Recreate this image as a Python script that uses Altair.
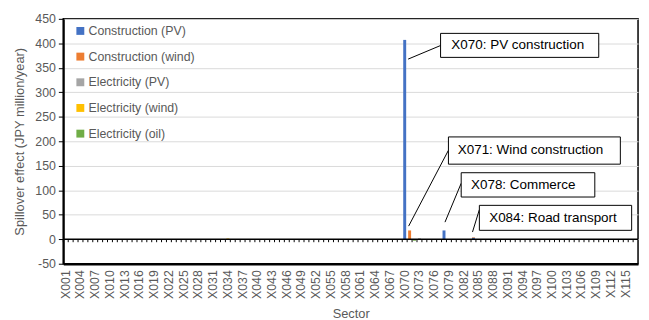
import altair as alt
import pandas as pd

# ---- categories ----
sectors = [f"X{i:03d}" for i in range(1, 118)]
tick_labels = sectors[::3]
y_ticks = [-50, 0, 50, 100, 150, 200, 250, 300, 350, 400, 450]

series_names = ["Construction (PV)", "Construction (wind)", "Electricity (PV)",
                "Electricity (wind)", "Electricity (oil)"]
series_colors = ["#4472C4", "#ED7D31", "#A5A5A5", "#FFC000", "#70AD47"]

# ---- series values (JPY million/year), non-zero sectors only ----
construction_pv = {"X070": 407, "X078": 18, "X084": 3}
construction_wind = {"X071": 18, "X084": 1}
electricity_pv = {"X073": 2}
electricity_wind = {"X034": 1.5}
electricity_oil = {"X072": -3}
series_values = [construction_pv, construction_wind, electricity_pv,
                 electricity_wind, electricity_oil]

# ---- annotations (x in sector-index units, y in data units) ----
ann_labels = ["X070: PV construction", "X071: Wind construction",
              "X078: Commerce", "X084: Road transport"]
box_x0 = [76.8, 78.4, 81.0, 84.7]
box_x1 = [109.0, 113.4, 108.2, 115.7]
box_y0 = [371.3, 153.3, 86.2, 18.2]
box_y1 = [420.3, 208.9, 135.8, 69.2]
text_x = [79.0, 80.3, 83.0, 86.7]
lead_x0 = [70.2, 70.3, 77.7, 83.3]
lead_y0 = [367.8, 26.8, 34.9, 14.7]
lead_x1 = [76.8, 78.4, 81.0, 84.7]
lead_y1 = [395.5, 181.6, 114.3, 60.5]

Y_TITLE = "Spillover effect (JPY million/year)"
FONT = "Liberation Sans"

rows = []
for k, (name, vals) in enumerate(zip(series_names, series_values)):
    for s in sectors:
        rows.append({"sector": s, "series": name, "value": vals.get(s, 0.0), "order": k})
df = pd.DataFrame(rows)

ann_df = pd.DataFrame({
    "label": ann_labels, "bx0": box_x0, "bx1": box_x1, "by0": box_y0, "by1": box_y1,
    "tx": text_x, "ty": [(a + b) / 2 for a, b in zip(box_y0, box_y1)],
    "lx0": lead_x0, "ly0": lead_y0, "lx1": lead_x1, "ly1": lead_y1,
})

yscale = alt.Scale(domain=[-50, 450], nice=False, zero=False)
band = alt.Scale(paddingInner=0, paddingOuter=0)
qx = alt.Scale(domain=[0, 117], nice=False, zero=False)


def yaxis():
    return alt.Axis(values=y_ticks, tickSize=5, labelPadding=3, titlePadding=8,
                    labelOverlap=False, labelBound=False, labelExpr="'' + datum.value")


bars = alt.Chart(df).mark_bar(width=alt.RelativeBandSize(band=0.6)).encode(
    x=alt.X("sector:N", sort=sectors, scale=band, title="Sector",
            axis=alt.Axis(values=tick_labels, labelAngle=-90, ticks=False,
                          labelPadding=6, titlePadding=9, labelOverlap=False)),
    y=alt.Y("value:Q", stack=True, scale=yscale, title=Y_TITLE, axis=yaxis()),
    color=alt.Color("series:N", scale=alt.Scale(domain=series_names, range=series_colors),
                    legend=alt.Legend(orient="none", legendX=11, legendY=6, title=None,
                                      symbolType="square", symbolSize=64,
                                      symbolStrokeWidth=0, labelFontSize=12.5,
                                      labelFont=FONT,
                                      labelColor="#595959", rowPadding=13,
                                      labelOffset=2, padding=0)),
    order=alt.Order("order:Q"),
)

zero_line = alt.Chart(pd.DataFrame({"z": [0]})).mark_rule(
    color="black", strokeWidth=1.5).encode(
    y=alt.Y(datum=0, scale=yscale, title=Y_TITLE, axis=yaxis()))

ticks = alt.Chart(pd.DataFrame({"sector": sectors})).mark_rule(
    color="black", strokeWidth=1).encode(
    x=alt.X("sector:N", sort=sectors, scale=band, bandPosition=0, axis=None),
    y=alt.Y(datum=0, scale=yscale, title=Y_TITLE, axis=yaxis()),
    y2=alt.datum(-6),
)

leads = alt.Chart(ann_df).mark_rule(color="black", strokeWidth=1).encode(
    x=alt.X("lx0:Q", scale=qx, axis=None), x2="lx1:Q",
    y=alt.Y("ly0:Q", scale=yscale, title=Y_TITLE, axis=yaxis()), y2="ly1:Q")

boxes = alt.Chart(ann_df).mark_rect(fill="white", stroke="black", strokeWidth=1).encode(
    x=alt.X("bx0:Q", scale=qx, axis=None), x2="bx1:Q",
    y=alt.Y("by0:Q", scale=yscale, title=Y_TITLE, axis=yaxis()), y2="by1:Q")

texts = alt.Chart(ann_df).mark_text(align="left", baseline="middle", fontSize=13.6,
                                    font=FONT, color="black").encode(
    x=alt.X("tx:Q", scale=qx, axis=None),
    y=alt.Y("ty:Q", scale=yscale, title=Y_TITLE, axis=yaxis()),
    text="label:N")

chart = alt.layer(bars, zero_line, ticks, leads, boxes, texts).resolve_scale(
    x="independent"
).properties(
    width=582, height=248,
    autosize=alt.AutoSizeParams(type="none"),
    padding={"left": 56, "top": 9, "right": 3, "bottom": 55},
).configure(font=FONT).configure_view(
    stroke="black", strokeWidth=1.5
).configure_axis(
    labelFont=FONT, titleFont=FONT, labelColor="#595959", titleColor="#595959",
    labelFontSize=12.5, titleFontSize=13, titleFontWeight="normal",
    domainColor="black", domainWidth=2, tickColor="black",
).configure_axisY(
    gridColor="#D9D9D9", gridWidth=1, labelOverlap=False,
).configure_axisX(
    grid=False, domainWidth=2.5,
)

chart.save("out.html", embed_options={"renderer": "svg", "actions": False})
